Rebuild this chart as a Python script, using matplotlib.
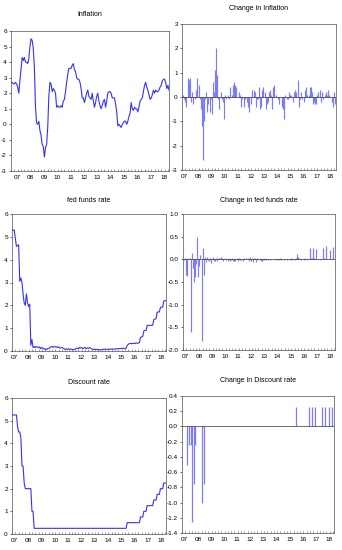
import numpy as np
import matplotlib
matplotlib.use("Agg")
import matplotlib.pyplot as plt
from matplotlib.ticker import FixedLocator, FormatStrFormatter

plt.rcParams['font.family'] = ['Liberation Sans Narrow', 'Liberation Sans', 'DejaVu Sans']
plt.rcParams['axes.unicode_minus'] = False

# Monthly observations 2007M1 .. 2018M11
year_labels = ['07', '08', '09', '10', '11', '12', '13', '14', '15', '16', '17', '18']

inflation = [
    2.7, 2.7, 2.6, 2.6, 2.7, 2.6, 2.4, 2.0, 2.8, 3.5, 4.3, 4.1,
    4.3, 4.0, 4.0, 3.9, 4.2, 5.0, 5.5, 5.4, 4.9, 3.7, 1.1, 0.1,
    0.0, 0.2, -0.4, -0.7, -1.3, -1.4, -2.1, -1.5, -1.3, -0.2, 1.8, 2.7,
    2.6, 2.1, 2.3, 2.2, 2.0, 1.1, 1.2, 1.1, 1.1, 1.2, 1.1, 1.5,
    1.6, 2.1, 2.7, 3.2, 3.6, 3.6, 3.6, 3.8, 3.9, 3.5, 3.4, 3.0,
    2.9, 2.9, 2.7, 2.3, 1.7, 1.7, 1.4, 1.7, 2.0, 2.2, 1.8, 1.7,
    1.6, 2.0, 1.5, 1.1, 1.4, 1.8, 2.0, 1.5, 1.2, 1.0, 1.2, 1.5,
    1.6, 1.1, 1.5, 2.0, 2.1, 2.1, 2.0, 1.7, 1.7, 1.7, 1.3, 0.8,
    -0.1, 0.0, -0.1, -0.2, 0.0, 0.1, 0.2, 0.2, 0.0, 0.2, 0.5, 0.7,
    1.4, 1.0, 0.9, 1.1, 1.0, 1.0, 0.8, 1.1, 1.5, 1.6, 1.7, 2.1,
    2.5, 2.7, 2.4, 2.2, 1.9, 1.6, 1.7, 1.9, 2.2, 2.0, 2.2, 2.1,
    2.1, 2.2, 2.4, 2.5, 2.8, 2.9, 2.9, 2.7, 2.3, 2.5, 2.2,
]

fed_funds = [
    5.30, 5.30, 5.30, 5.30, 5.28, 5.30, 4.95, 4.58, 4.62, 4.65, 3.05, 3.20,
    3.00, 2.50, 2.10, 2.00, 2.50, 2.10, 1.95, 2.05, 0.25, 0.50, 0.15, 0.20,
    0.15, 0.20, 0.18, 0.14, 0.18, 0.10, 0.15, 0.12, 0.08, 0.10, 0.06, 0.10,
    0.12, 0.13, 0.18, 0.20, 0.16, 0.20, 0.18, 0.19, 0.15, 0.18, 0.14, 0.13,
    0.16, 0.13, 0.10, 0.07, 0.09, 0.06, 0.10, 0.08, 0.07, 0.08, 0.05, 0.07,
    0.08, 0.11, 0.13, 0.10, 0.16, 0.13, 0.15, 0.10, 0.13, 0.16, 0.10, 0.14,
    0.12, 0.15, 0.12, 0.09, 0.08, 0.06, 0.08, 0.06, 0.07, 0.05, 0.06, 0.05,
    0.06, 0.07, 0.08, 0.07, 0.08, 0.07, 0.08, 0.07, 0.09, 0.08, 0.09, 0.08,
    0.09, 0.10, 0.09, 0.10, 0.11, 0.10, 0.12, 0.11, 0.12, 0.10, 0.12, 0.24,
    0.30, 0.32, 0.33, 0.32, 0.33, 0.34, 0.33, 0.35, 0.34, 0.35, 0.36, 0.60,
    0.62, 0.64, 0.88, 0.90, 0.90, 1.12, 1.12, 1.13, 1.12, 1.12, 1.13, 1.38,
    1.40, 1.41, 1.70, 1.71, 1.71, 1.91, 1.92, 1.92, 2.19, 2.20, 2.21,
]

discount_rate = (
    [5.25] * 8 + [4.75, 4.5, 4.5, 4.25, 3.0, 3.0, 2.25] + [2.0] * 6 + [1.0, 1.0]
    + [0.25] * 84 + [0.5] * 12 + [0.75] * 3 + [1.0] * 3 + [1.25] * 6
    + [1.5] * 3 + [1.75] * 3 + [2.0] * 3 + [2.25] * 3
)

W, H = 342, 550
fig = plt.figure(figsize=(W / 100, H / 100), dpi=100)
fig.patch.set_facecolor('white')

LINE = '#3232ff'
BAR = '#7b7bff'
FS = 4.6


def add_ax(l, r, t, b):
    return fig.add_axes([l / W, 1 - b / H, (r - l) / W, (b - t) / H])


def style(ax, xlim, ylim, yticks, fmt):
    ax.set_xlim(*xlim)
    ax.set_ylim(*ylim)
    n = len(year_labels)
    ax.xaxis.set_major_locator(FixedLocator([12 * k + 5.5 for k in range(n)]))
    ax.set_xticklabels(year_labels)
    ax.xaxis.set_minor_locator(FixedLocator(list(range(0, 144, 3))))
    ax.tick_params(axis='x', which='major', length=0, pad=3.2, labelsize=FS)
    ax.tick_params(axis='x', which='minor', direction='in', length=1.6, width=0.4, color='#555555')
    ax.set_yticks(yticks)
    ax.yaxis.set_major_formatter(FormatStrFormatter(fmt))
    ax.tick_params(axis='y', direction='out', length=1.5, width=0.4, pad=1.5, labelsize=FS)
    for s in ax.spines.values():
        s.set_linewidth(0.5)
        s.set_color('#505050')


months = np.arange(len(inflation))
dmonths = months[1:]

# Panel 1: Inflation
ax1 = add_ax(11, 169, 31, 171)
ax1.plot(months, inflation, color=LINE, lw=0.8)
style(ax1, (0, 142), (-3, 6), list(range(-3, 7)), '%d')
fig.text(90 / W, 1 - 15 / H, 'Inflation', ha='center', va='center', fontsize=5)

# Panel 2: Change in Inflation
ax2 = add_ax(182, 336, 24, 170)
d_inf = np.diff(np.array(inflation))
ax2.vlines(dmonths, 0, d_inf, color=BAR, lw=0.85)
ax2.axhline(0, color='#303030', lw=0.5)
style(ax2, (3, 143), (-3, 3), list(range(-3, 4)), '%d')
fig.text(259 / W, 1 - 8 / H, 'Change in Inflation', ha='center', va='center', fontsize=5)

# Panel 3: fed funds rate
ax3 = add_ax(12, 166, 214, 351)
ax3.plot(months, fed_funds, color=LINE, lw=0.8)
style(ax3, (3, 142), (0, 6), list(range(0, 7)), '%d')
fig.text(89 / W, 1 - 200 / H, 'fed funds rate', ha='center', va='center', fontsize=5)

# Panel 4: Change in fed funds rate
ax4 = add_ax(183, 335, 214, 350)
d_ff = np.diff(np.array(fed_funds))
ax4.vlines(dmonths, 0, d_ff, color=BAR, lw=0.85)
ax4.axhline(0, color='#303030', lw=0.5)
style(ax4, (3, 142), (-2, 1), [-2.0, -1.5, -1.0, -0.5, 0.0, 0.5, 1.0], '%.1f')
fig.text(259 / W, 1 - 200 / H, 'Change in fed funds rate', ha='center', va='center', fontsize=5)

# Panel 5: Discount rate
ax5 = add_ax(12, 166, 398, 534)
ax5.plot(months, discount_rate, color=LINE, lw=0.8)
style(ax5, (3, 142), (0, 6), list(range(0, 7)), '%d')
fig.text(89 / W, 1 - 383 / H, 'Discount rate', ha='center', va='center', fontsize=5)

# Panel 6: Change in Discount rate
ax6 = add_ax(182, 334, 396, 533)
d_dr = np.diff(np.array(discount_rate))
ax6.vlines(dmonths, 0, d_dr, color=BAR, lw=0.9)
ax6.axhline(0, color='#303030', lw=0.5)
style(ax6, (3, 142), (-1.4, 0.4), [-1.4, -1.2, -1.0, -0.8, -0.6, -0.4, -0.2, 0.0, 0.2, 0.4], '%.1f')
fig.text(258 / W, 1 - 380 / H, 'Change in Discount rate', ha='center', va='center', fontsize=5)

fig.savefig('out.png', dpi=100)
